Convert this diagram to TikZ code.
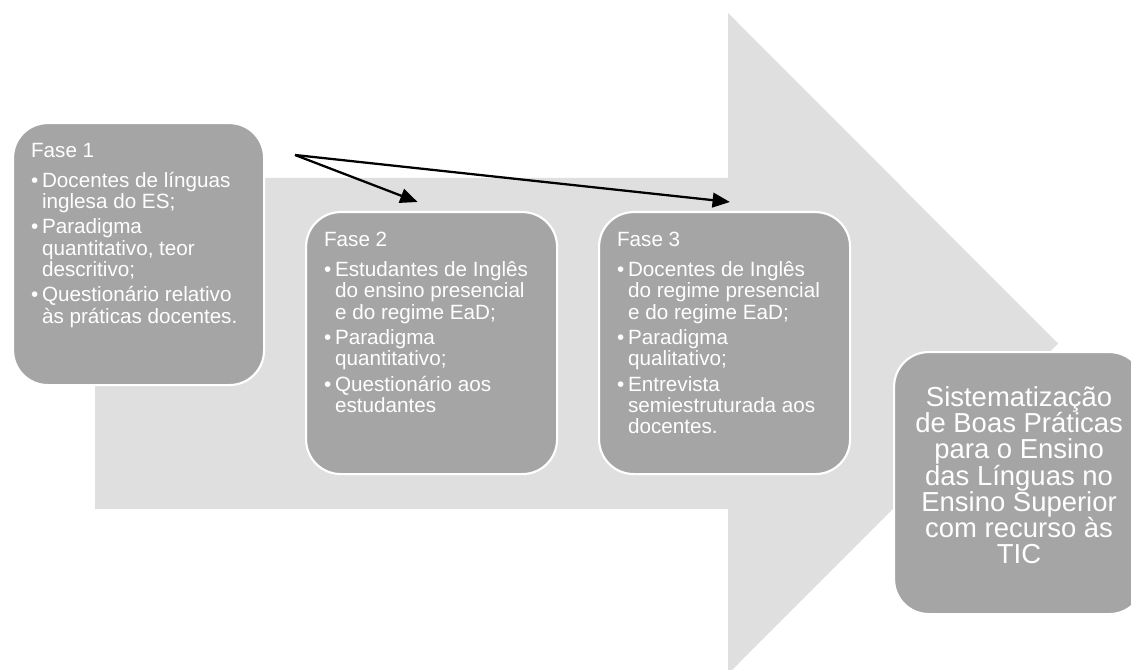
\documentclass[tikz,border=0pt]{standalone}
\usepackage{fontspec}
\setmainfont{Liberation Sans}
\usetikzlibrary{arrows.meta, positioning}
\definecolor{flowgray}{HTML}{DFDFDF}
\definecolor{boxgray}{HTML}{A5A5A5}
\newcommand{\fasefont}{\fontsize{15.5pt}{16pt}\selectfont\lineskiplimit=-20pt\relax}
\newcommand{\goalfont}{\fontsize{20.6pt}{19.7pt}\selectfont\lineskiplimit=-20pt\relax}
\newcommand{\bul}{\makebox[8.25pt][l]{\textbullet}}
\newcommand{\ind}{\hspace*{8.25pt}}

\begin{document}
\begin{tikzpicture}[
    x=0.75pt, y=-0.75pt,
    fase/.style={rectangle, rounded corners=26pt, draw=white, line width=1.6pt, fill=boxgray, text=white, anchor=north west, inner xsep=13.5pt, inner ysep=15pt, font=\fasefont, execute at begin node={\begin{minipage}[c][166.5pt][t]{161.25pt}\fasefont}, execute at end node={\end{minipage}}},
    goal/.style={rectangle, rounded corners=26pt, draw=white, line width=1.6pt, fill=boxgray, text=white, anchor=north west, minimum width=187.5pt, minimum height=196.5pt, align=center, text depth=12pt, font=\goalfont},
    link/.style={-{Triangle[length=13pt,width=11pt]}, line width=1.7pt, black}
]
    \useasboundingbox (0,0) rectangle (1131,670);
    \fill[flowgray] (95,178) -- (728,178) -- (728,13) -- (1058,343.5) -- (728,674) -- (728,509) -- (95,509) -- cycle;

    \node[fase] (f1) at (12,122) {Fase 1\\[6.5pt]
        \bul Docentes de línguas\\ \ind inglesa do ES;\\[3pt]
        \bul Paradigma\\ \ind quantitativo, teor\\ \ind descritivo;\\[3pt]
        \bul Questionário relativo\\ \ind às práticas docentes.};
    \node[fase] (f2) at (305,211) {Fase 2\\[6.5pt]
        \bul Estudantes de Inglês\\ \ind do ensino presencial\\ \ind e do regime EaD;\\[3pt]
        \bul Paradigma\\ \ind quantitativo;\\[3pt]
        \bul Questionário aos\\ \ind estudantes};
    \node[fase] (f3) at (598,211) {Fase 3\\[6.5pt]
        \bul Docentes de Inglês\\ \ind do regime presencial\\ \ind e do regime EaD;\\[3pt]
        \bul Paradigma\\ \ind qualitativo;\\[3pt]
        \bul Entrevista\\ \ind semiestruturada aos\\ \ind docentes.};
    \node[goal] (goal) at (893,351) {Sistematização\\de Boas Práticas\\para o Ensino\\das Línguas no\\Ensino Superior\\com recurso às\\TIC};

    \coordinate (src) at (295,155);
    \draw[link] (src) -- ([xshift=-10.5pt,yshift=6.75pt]f2.north);
    \draw[link] (src) -- ([xshift=4pt,yshift=6.75pt]f3.north);
\end{tikzpicture}
\end{document}
